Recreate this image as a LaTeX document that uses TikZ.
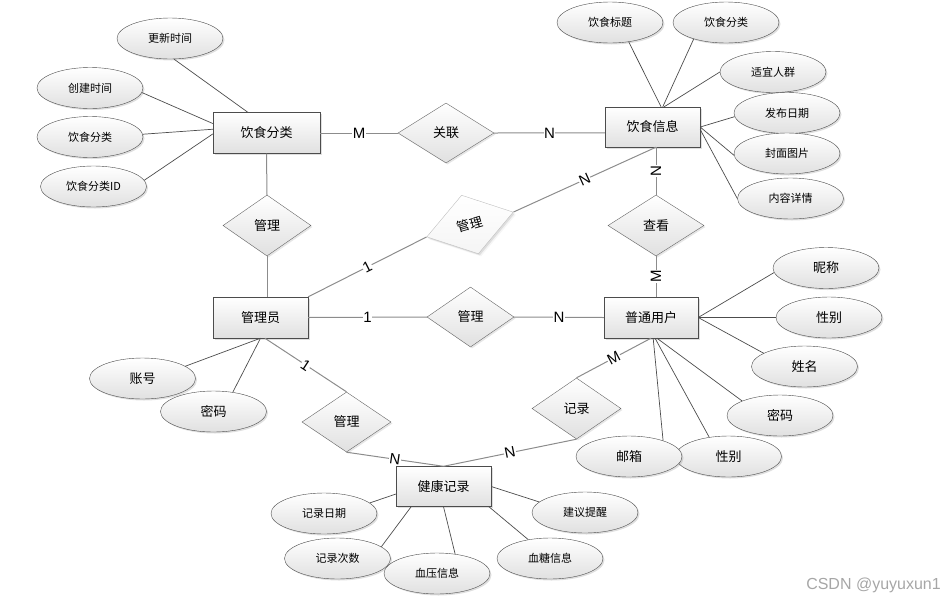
\documentclass[tikz,border=0pt]{standalone}
\usepackage{fontspec}
\setmainfont{Liberation Sans}
\newfontfamily\cjk{Noto Sans CJK SC}
\usepackage{tikz}
\usetikzlibrary{shapes.geometric, shadows}
\tikzstyle{link} = [draw=black!70, line width=0.7pt]
\tikzstyle{rellink} = [draw=black!45, line width=1pt]

\begin{document}
\begin{tikzpicture}[x=1pt, y=-1pt,
entitynode/.style={rectangle, draw=black!70, top color=white, bottom color=black!12, drop shadow={shadow xshift=1.5pt, shadow yshift=-1.5pt, opacity=0.25}, minimum width=95pt, minimum height=40pt, inner sep=0pt, font=\cjk\fontsize{13}{13}\selectfont},
relnode/.style={diamond, draw=black!60, top color=white, bottom color=black!12, drop shadow={shadow xshift=1.5pt, shadow yshift=-1.5pt, opacity=0.2}, minimum width=96pt, minimum height=60pt, inner sep=0pt, font=\cjk\fontsize{13}{13}\selectfont},
attrnode/.style={ellipse, draw=black!70, top color=white, bottom color=black!12, drop shadow={shadow xshift=1.5pt, shadow yshift=-1.5pt, opacity=0.25}, minimum width=106pt, minimum height=41pt, inner sep=0pt, font=\cjk\fontsize{11}{11}\selectfont},
bigattrnode/.style={attrnode, font=\cjk\fontsize{13}{13}\selectfont},
cardnode/.style={fill=white, inner sep=0.5pt, font=\fontsize{15}{15}\selectfont}]
\useasboundingbox (0,0) rectangle (950,603);
\node[entitynode, minimum width=107pt, minimum height=41pt] (category) at (266.5,133) {饮食分类};
\node[entitynode] (food) at (652.5,127) {饮食信息};
\node[entitynode, minimum height=41pt] (admin) at (260.5,317.5) {管理员};
\node[entitynode, minimum width=94pt, minimum height=41pt] (user) at (651,317.5) {普通用户};
\node[entitynode] (record) at (443.5,486.5) {健康记录};
\node[relnode] (relate) at (446,133) {关联};
\node[relnode, minimum width=88pt, minimum height=61pt] (manage1) at (267,225.5) {管理};
\node[relnode, rotate=16, minimum width=90pt, minimum height=61pt, draw=black!25, bottom color=black!4, drop shadow={opacity=0.08}] (manage2) at (470,224.5) {管理};
\node[relnode, minimum height=61pt] (view) at (656,225.5) {查看};
\node[relnode, minimum width=87pt] (manage3) at (470.5,317) {管理};
\node[relnode, minimum width=89pt] (manage4) at (346.5,422) {管理};
\node[relnode, minimum width=89pt, minimum height=61pt] (log) at (576.5,408.5) {记录};
\node[attrnode] (catupd) at (170,38.5) {更新时间};
\node[attrnode] (cattime) at (90,88) {创建时间};
\node[attrnode] (catname) at (90,137) {饮食分类};
\node[attrnode] (catid) at (93.5,186.5) {饮食分类ID};
\node[attrnode] (foodtitle) at (610,22.5) {饮食标题};
\node[attrnode] (foodcat) at (726,22.5) {饮食分类};
\node[attrnode] (foodcrowd) at (773,72) {适宜人群};
\node[attrnode] (fooddate) at (787,113) {发布日期};
\node[attrnode] (foodpic) at (787,153.5) {封面图片};
\node[attrnode] (foodtext) at (790.5,198.5) {内容详情};
\node[bigattrnode] (usernick) at (826,268) {昵称};
\node[bigattrnode] (usersex1) at (829,317.5) {性别};
\node[bigattrnode] (username) at (804.5,366.5) {姓名};
\node[bigattrnode] (userpwd) at (780,415.5) {密码};
\node[bigattrnode] (usersex2) at (728.5,456.5) {性别};
\node[bigattrnode] (usermail) at (629,456.5) {邮箱};
\node[bigattrnode] (adminacct) at (142.5,378.5) {账号};
\node[bigattrnode] (adminpwd) at (213.5,411.5) {密码};
\node[attrnode] (recdate) at (324,513.5) {记录日期};
\node[attrnode] (reccount) at (337.5,558.5) {记录次数};
\node[attrnode] (recbp) at (437,573.5) {血压信息};
\node[attrnode] (recadvice) at (585,512.5) {建议提醒};
\node[attrnode] (recbs) at (550,558.5) {血糖信息};
\node[text=black!35, font=\fontsize{16}{16}\selectfont] (mark) at (873.5,585) {CSDN @yuyuxun1};
\draw[rellink] (category.east) -- node[cardnode]{M} (relate.west);
\draw[rellink] (relate.east) -- node[cardnode]{N} (food.187);
\draw[rellink] (category.south) -- (manage1.north);
\draw[rellink] (manage1.south) -- (manage1.south |- admin.north);
\draw[rellink] (view.north |- food.south) -- node[cardnode, rotate=90]{N} (view.north);
\draw[rellink] (view.south) -- node[cardnode, rotate=90]{M} (view.south |- user.north);
\draw[rellink] (view.north |- food.south) -- node[cardnode, sloped]{N} (manage2.east);
\draw[rellink] (admin.north east) -- node[cardnode, sloped]{1} (manage2.west);
\draw[rellink] (admin.east) -- node[cardnode]{1} (manage3.west);
\draw[rellink] (manage3.east) -- node[cardnode]{N} (user.west);
\draw[rellink] (admin.-78) -- node[cardnode, sloped]{1} (manage4.north);
\draw[rellink] (manage4.south) -- node[cardnode, sloped]{N} (record.north);
\draw[rellink] (log.south) -- node[cardnode, sloped]{N} (record.north);
\draw[rellink] (log.north) -- node[cardnode, sloped]{M} (user.south);
\draw[link] (catupd.-79) -- (category.132);
\draw[link] (cattime.-5) -- (category.170);
\draw[link] (catname.3) -- (category.176);
\draw[link] (catid.7) -- (category.181);
\draw[link] (foodtitle.-46) -- (food.67.5);
\draw[link] (foodcat.207) -- (food.63);
\draw[link] (foodcrowd.west) -- (food.60);
\draw[link] (fooddate.184) -- (food.east);
\draw[link] (foodpic.182) -- (food.east);
\draw[link] (foodtext.west) -- (food.-3);
\draw[link] (usernick.185) -- (user.east);
\draw[link] (usersex1.west) -- (user.east);
\draw[link] (username.162) -- (user.east);
\draw[link] (userpwd.159) -- (user.-74);
\draw[link] (usersex2.135) -- (user.-79);
\draw[link] (usermail.25) -- (user.-84);
\draw[link] (adminacct.16) -- (admin.south);
\draw[link] (adminpwd.45) -- (admin.south);
\draw[link] (recdate.13) -- (record.189);
\draw[link] (reccount.15) -- (record.212);
\draw[link] (recbp.47) -- (record.south);
\draw[link] (recadvice.167) -- (record.east);
\draw[link] (recbs.139) -- (record.-24);
\end{tikzpicture}
\end{document}
